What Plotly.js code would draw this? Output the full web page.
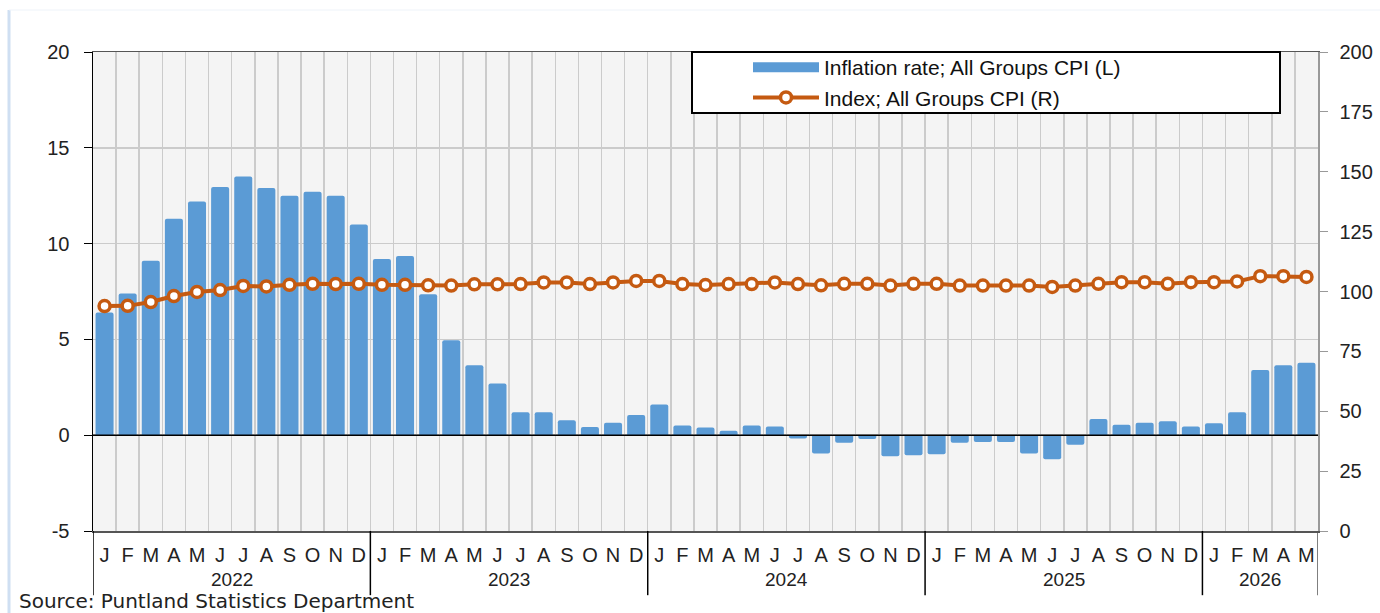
<!DOCTYPE html>
<html>
<head>
<meta charset="utf-8">
<script src="https://cdn.plot.ly/plotly-3.0.1.min.js"></script>
<style>
html,body{margin:0;padding:0;background:#fff;}
#chart{width:1380px;height:613px;}
</style>
</head>
<body>
<div id="chart"></div>
<script>
// ---- data ----
const monthLetters = ['J','F','M','A','M','J','J','A','S','O','N','D'];
const years = ['2022','2023','2024','2025','2026'];
const monthsPerYear = [12,12,12,12,5];

const inflationRate = [
  6.4, 7.4, 9.1, 11.3, 12.2, 12.95, 13.5, 12.9, 12.5, 12.7, 12.5, 11.0,
  9.2, 9.35, 7.35, 4.95, 3.65, 2.7, 1.2, 1.2, 0.78, 0.43, 0.65, 1.05,
  1.6, 0.5, 0.4, 0.23, 0.5, 0.45, -0.17, -0.95, -0.4, -0.2, -1.1, -1.05,
  -1.0, -0.4, -0.35, -0.35, -0.95, -1.25, -0.5, 0.85, 0.55, 0.65, 0.73, 0.45,
  0.62, 1.2, 3.4, 3.65, 3.78
];
const cpiIndex = [
  93.9, 94.0, 95.6, 98.1, 99.8, 100.6, 102.3, 102.1, 102.8, 103.2, 103.1, 103.2,
  102.8, 102.8, 102.6, 102.5, 103.0, 103.0, 103.1, 103.8, 103.8, 103.1, 103.8, 104.4,
  104.4, 103.1, 102.7, 103.1, 103.1, 103.8, 103.1, 102.6, 103.2, 103.2, 102.5, 103.2,
  103.2, 102.5, 102.5, 102.5, 102.5, 101.9, 102.5, 103.2, 103.9, 103.9, 103.2, 103.9,
  103.9, 104.2, 106.4, 106.4, 106.1
];
const leftTicks = [-5, 0, 5, 10, 15, 20];
const leftTickText = ['-5', '0', '5', '10', '15', '20'];
const rightTicks = [0, 25, 50, 75, 100, 125, 150, 175, 200];
const seriesNames = ['Inflation rate; All Groups CPI (L)', 'Index; All Groups CPI (R)'];
const sourceText = 'Source: Puntland Statistics Department';

// ---- derived ----
const tickText = [];
const yearStart = [];
monthsPerYear.forEach((n) => {
  yearStart.push(tickText.length);
  for (let m = 0; m < n; m++) tickText.push(monthLetters[m]);
});
const N = tickText.length;
const xIdx = tickText.map((_, i) => i);
const boundaries = [];
for (let i = 0; i <= N; i++) boundaries.push(i - 0.5);

const FONT = 'Liberation Sans, Arial, sans-serif';
const BLUE = '#5B9BD5';
const ORANGE = '#C55A11';

const traces = [
  {
    type: 'bar', x: xIdx, y: inflationRate, name: seriesNames[0],
    marker: {color: BLUE, cornerradius: 2}, width: 0.78,
    showlegend: false, legendgroup: 'infl', yaxis: 'y', hoverinfo: 'y'
  },
  {
    type: 'scatter', mode: 'lines', x: [null], y: [null], name: seriesNames[0],
    line: {color: BLUE, width: 15}, legendgroup: 'infl', showlegend: true, yaxis: 'y'
  },
  {
    type: 'scatter', mode: 'lines+markers', x: xIdx, y: cpiIndex, name: seriesNames[1],
    yaxis: 'y2', line: {color: ORANGE, width: 4},
    marker: {symbol: 'circle', size: 11, color: '#ffffff', line: {color: ORANGE, width: 3.5}}
  }
];

const shapes = [];
const annotations = [];
// zero line above bars
shapes.push({type:'line', xref:'paper', x0:0, x1:1, yref:'y', y0:0, y1:0, line:{color:'#000', width:1.5}, layer:'above'});
// year separators below axis
const sepIdx = yearStart.concat([N]);
sepIdx.forEach((s, k) => {
  shapes.push({type:'line', xref:'x', x0:s-0.5, x1:s-0.5, yref:'paper', y0:0, y1:-0.134,
    line:{color: k === sepIdx.length-1 ? '#555' : '#000', width:1.5}});
});
// year labels
years.forEach((yr, k) => {
  const c = yearStart[k] + (monthsPerYear[k]-1)/2;
  annotations.push({text: yr, x: c, xref:'x', y: (531-579)/479, yref:'paper', showarrow:false,
    xanchor:'center', yanchor:'middle', font:{family:FONT, size:19, color:'#222'}});
});
// legend box
shapes.push({type:'rect', xref:'paper', yref:'paper', x0:(692-93)/1225, x1:(1280-93)/1225,
  y0:1-(113-52)/479, y1:1, fillcolor:'#ffffff', line:{color:'#000', width:2}, layer:'above'});
// outer faint frame
shapes.push({type:'line', xref:'paper', yref:'paper', x0:(9-93)/1225, x1:(9-93)/1225,
  y0:(531-613)/479, y1:1+(52-10)/479, line:{color:'#cfdff2', width:3}});
shapes.push({type:'line', xref:'paper', yref:'paper', x0:(9-93)/1225, x1:(1380-93)/1225,
  y0:1+(52-10)/479, y1:1+(52-10)/479, line:{color:'#eef3f9', width:1}});
// source
annotations.push({text: sourceText, xref:'paper', x:(17-93)/1225, xanchor:'left',
  yref:'paper', y:(531-601)/479, yanchor:'middle', showarrow:false,
  font:{family:'DejaVu Sans, Verdana, sans-serif', size:20, color:'#222'}});

const layout = {
  width: 1380, height: 613,
  margin: {l:93, r:62, t:52, b:82},
  paper_bgcolor: '#ffffff', plot_bgcolor: '#f4f4f4',
  font: {family: FONT, color:'#222'},
  bargap: 0.22,
  xaxis: {
    range: [-0.5, N-0.5], tickmode:'array', tickvals: xIdx, ticktext: tickText,
    ticks:'', showgrid:false, zeroline:false, showline:true, linecolor:'#555', linewidth:1.5,
    mirror:true, tickfont:{family:FONT, size:20, color:'#222'}, ticklabelstandoff: 5,
    minor: {tickmode:'array', tickvals: boundaries, showgrid:true, gridcolor:'#cbcbcb', gridwidth:1.5, ticks:''}
  },
  yaxis: {
    range: [-5, 20], tickmode:'array', tickvals: leftTicks, ticktext: leftTickText, ticks:'outside', ticklen:8,
    tickcolor:'#000', showline:true, linecolor:'#000', linewidth:1.5,
    showgrid:true, gridcolor:'#cbcbcb', gridwidth:1.5, zeroline:false,
    tickfont:{family:FONT, size:20, color:'#222'}, ticklabelstandoff: 10
  },
  yaxis2: {
    range: [0, 200], overlaying:'y', side:'right', tickmode:'array', tickvals: rightTicks,
    ticks:'outside', ticklen:8, tickcolor:'#999', showline:true, linecolor:'#999', linewidth:1.5,
    showgrid:false, zeroline:false, tickfont:{family:FONT, size:20, color:'#222'}, ticklabelstandoff: 8
  },
  showlegend: true,
  legend: {
    x: (748-93)/1225, xanchor:'left', y: 1+(5)/479, yanchor:'top',
    bgcolor:'rgba(0,0,0,0)', borderwidth:0, itemwidth: 66,
    font:{family:FONT, size:21, color:'#111'}, traceorder:'normal', tracegroupgap: 0
  },
  shapes: shapes,
  annotations: annotations
};

Plotly.newPlot('chart', traces, layout, {displayModeBar:false, staticPlot:true});
</script>
</body>
</html>
